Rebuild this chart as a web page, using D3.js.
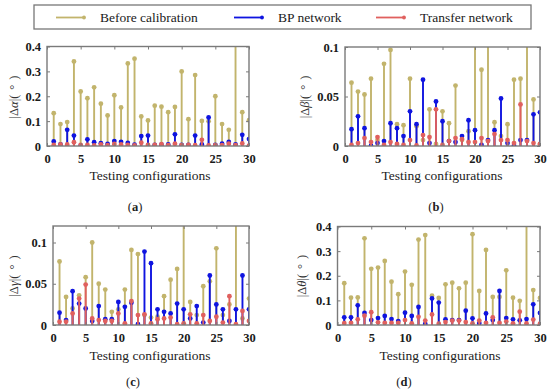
<!DOCTYPE html>
<html><head><meta charset="utf-8">
<script src="https://cdn.jsdelivr.net/npm/d3@7"></script>
<style>body{margin:0;background:#fff} svg{display:block}</style>
</head><body><svg id="c" width="550" height="390"></svg>
<script>
// ---------- DATA ----------
const configs = [1,2,3,4,5,6,7,8,9,10,11,12,13,14,15,16,17,18,19,20,21,22,23,24,25,26,27,28,29,30];
const seriesNames = ["Before calibration", "BP network", "Transfer network"];
const xTicks = [0,5,10,15,20,25,30];

// (a) |Δα|
const alphaBefore   = [0.132,0.088,0.096,0.340,0.219,0.192,0.236,0.170,0.123,0.204,0.155,0.332,0.351,0.119,0.103,0.162,0.158,0.136,0.157,0.300,0.108,0.285,0.101,0.099,0.200,0.088,0.065,0.480,0.136,0.104];
const alphaBP       = [0.018,0.006,0.065,0.042,0.001,0.027,0.015,0.011,0.008,0.020,0.016,0.012,0.005,0.040,0.042,0.004,0.005,0.006,0.047,0.004,0.004,0.042,0.006,0.115,0.004,0.009,0.016,0.006,0.045,0.028];
const alphaTransfer = [0.004,0.006,0.006,0.015,0.004,0.004,0.002,0.006,0.003,0.008,0.006,0.004,0.002,0.013,0.004,0.004,0.007,0.003,0.009,0.003,0.004,0.003,0.025,0.002,0.003,0.003,0.009,0.003,0.010,0.001];
const alphaTicks = [0,0.1,0.2,0.3,0.4];

// (b) |Δβ|
const betaBefore   = [0.064,0.055,0.052,0.068,0.006,0.083,0.097,0.022,0.021,0.068,0.020,0.006,0.037,0.002,0.035,0.023,0.061,0.006,0.015,0.120,0.077,0.120,0.024,0.010,0.022,0.067,0.068,0.120,0.047,0.002];
const betaBP       = [0.017,0.030,0.018,0.000,0.003,0.005,0.023,0.018,0.010,0.035,0.022,0.067,0.003,0.045,0.025,0.005,0.004,0.010,0.026,0.016,0.001,0.006,0.016,0.048,0.003,0.0005,0.006,0.006,0.032,0.034];
const betaTransfer = [0.001,0.003,0.008,0.004,0.009,0.001,0.004,0.002,0.001,0.006,0.0005,0.011,0.009,0.037,0.001,0.005,0.008,0.007,0.004,0.004,0.008,0.005,0.012,0.006,0.006,0.003,0.042,0.005,0.003,0.002];
const betaTicks = [0,0.05,0.1];

// (c) |Δγ|
const gammaBefore   = [0.077,0.034,0.020,0.036,0.058,0.100,0.050,0.043,0.016,0.019,0.043,0.091,0.086,0.012,0.009,0.010,0.035,0.055,0.068,0.140,0.028,0.012,0.047,0.053,0.093,0.012,0.025,0.140,0.008,0.032];
const gammaBP       = [0.015,0.006,0.041,0.026,0.020,0.005,0.023,0.007,0.007,0.028,0.022,0.027,0.001,0.089,0.075,0.019,0.016,0.014,0.026,0.019,0.008,0.023,0.003,0.060,0.025,0.019,0.005,0.019,0.060,0.019];
const gammaTransfer = [0.004,0.004,0.014,0.032,0.049,0.008,0.006,0.005,0.005,0.014,0.002,0.029,0.012,0.013,0.002,0.007,0.008,0.009,0.001,0.002,0.013,0.002,0.012,0.005,0.010,0.003,0.035,0.001,0.017,0.005];
const gammaTicks = [0,0.05,0.1];

// (d) |Δθ|
const thetaBefore   = [0.170,0.111,0.112,0.352,0.228,0.233,0.260,0.176,0.125,0.217,0.163,0.347,0.365,0.119,0.110,0.165,0.172,0.149,0.172,0.369,0.138,0.305,0.114,0.114,0.222,0.111,0.098,0.450,0.142,0.110];
const thetaBP       = [0.031,0.031,0.080,0.049,0.020,0.028,0.037,0.024,0.016,0.050,0.037,0.073,0.004,0.108,0.091,0.023,0.020,0.020,0.058,0.027,0.008,0.047,0.020,0.138,0.028,0.023,0.019,0.024,0.084,0.049];
const thetaTransfer = [0.008,0.009,0.023,0.038,0.052,0.011,0.009,0.009,0.009,0.020,0.007,0.033,0.018,0.043,0.005,0.012,0.018,0.018,0.012,0.007,0.018,0.009,0.031,0.009,0.014,0.007,0.054,0.007,0.022,0.005];
const thetaTicks = [0,0.1,0.2,0.3,0.4];

// ---------- LAYOUT / STYLE ----------
const colors = ["#c2b46c", "#0f14e0", "#e0605e"];
const serif = "'Liberation Serif','Times New Roman',serif";
const panels = [
  {tag:"a", greek:"α", series:[alphaBefore,alphaBP,alphaTransfer], ticks:alphaTicks, max:0.4,
   x0:47, x1:249, yT:46.5, yB:146, ylx:14, yly:97, tx:150, ty:180, gx:135, gy:211},
  {tag:"b", greek:"β", series:[betaBefore,betaBP,betaTransfer], ticks:betaTicks, max:0.1,
   x0:345, x1:540, yT:47, yB:146, ylx:305, yly:97, tx:442, ty:180, gx:436, gy:211},
  {tag:"c", greek:"γ", series:[gammaBefore,gammaBP,gammaTransfer], ticks:gammaTicks, max:0.12,
   x0:53, x1:249, yT:226, yB:325, ylx:14, yly:276, tx:150, ty:360, gx:133, gy:386},
  {tag:"d", greek:"θ", series:[thetaBefore,thetaBP,thetaTransfer], ticks:thetaTicks, max:0.4,
   x0:337.5, x1:540, yT:226.5, yB:325, ylx:302, yly:276, tx:440, ty:360, gx:404, gy:386}
];

const svg = d3.select("#c");
const fmt = v => v === 0 ? "0" : d3.format("~g")(v);

panels.forEach((p, pi) => {
  const x = d3.scaleLinear().domain([0,30]).range([p.x0, p.x1]);
  const y = d3.scaleLinear().domain([0,p.max]).range([p.yB, p.yT]);
  const g = svg.append("g");
  const clipId = "clip" + pi;
  svg.append("defs").append("clipPath").attr("id", clipId)
    .append("rect").attr("x", p.x0).attr("y", p.yT).attr("width", p.x1 - p.x0).attr("height", p.yB - p.yT);

  const plot = g.append("g").attr("clip-path", `url(#${clipId})`);
  p.series.forEach((vals, si) => {
    const sg = plot.append("g");
    sg.selectAll("line").data(configs).join("line")
      .attr("x1", (c) => x(c)).attr("x2", (c) => x(c))
      .attr("y1", y(0)).attr("y2", (c, i) => y(vals[i]))
      .attr("stroke", colors[si]).attr("stroke-width", 1.9);
    sg.selectAll("circle").data(configs).join("circle")
      .attr("cx", (c) => x(c)).attr("cy", (c, i) => y(vals[i]))
      .attr("r", 2.4).attr("fill", colors[si]);
  });

  // frame
  g.append("rect").attr("x", p.x0).attr("y", p.yT).attr("width", p.x1 - p.x0).attr("height", p.yB - p.yT)
    .attr("fill", "none").attr("stroke", "#7a7a7a").attr("stroke-width", 1.4);

  const styleAxis = sel => {
    sel.select(".domain").remove();
    sel.selectAll(".tick line").attr("stroke", "#7a7a7a");
    sel.selectAll("text").attr("font-family", serif).attr("font-weight", "bold")
      .attr("font-size", 12.5).attr("fill", "#1a1a1a");
  };
  g.append("g").attr("transform", `translate(0,${p.yB})`)
    .call(d3.axisBottom(x).tickValues(xTicks).tickSize(-3).tickPadding(8).tickFormat(d3.format("d")))
    .call(styleAxis);
  g.append("g").attr("transform", `translate(0,${p.yT})`)
    .call(d3.axisTop(x).tickValues(xTicks).tickSize(-3).tickFormat(""))
    .call(styleAxis);
  g.append("g").attr("transform", `translate(${p.x0},0)`)
    .call(d3.axisLeft(y).tickValues(p.ticks).tickSize(-3).tickPadding(6).tickFormat(fmt))
    .call(styleAxis);
  g.append("g").attr("transform", `translate(${p.x1},0)`)
    .call(d3.axisRight(y).tickValues(p.ticks).tickSize(-3).tickFormat(""))
    .call(styleAxis);

  // y label
  const yl = g.append("text").attr("transform", `translate(${p.ylx},${p.yly}) rotate(-90)`)
    .attr("text-anchor", "middle").attr("dy", "0.35em")
    .attr("font-family", serif).attr("font-size", 12.5).attr("fill", "#333");
  yl.append("tspan").text("|Δ");
  yl.append("tspan").attr("font-style", "italic").text(p.greek);
  yl.append("tspan").text("|(\u2009\u2009°\u2009\u2009)");

  // x title
  g.append("text").attr("x", p.tx).attr("y", p.ty).attr("text-anchor", "middle")
    .attr("font-family", serif).attr("font-size", 13.5).attr("fill", "#222")
    .text("Testing configurations");

  // panel tag
  const tg = g.append("text").attr("x", p.gx).attr("y", p.gy).attr("text-anchor", "middle")
    .attr("font-family", serif).attr("font-size", 12.5).attr("fill", "#222");
  tg.append("tspan").text("(");
  tg.append("tspan").attr("font-weight", "bold").text(p.tag);
  tg.append("tspan").text(")");
});

// legend
const lg = svg.append("g");
lg.append("rect").attr("x", 34).attr("y", 5).attr("width", 497).attr("height", 24)
  .attr("fill", "#fff").attr("stroke", "#777").attr("stroke-width", 1.3);
const legX = [56, 234, 376];
seriesNames.forEach((name, i) => {
  const e = lg.append("g").attr("transform", `translate(${legX[i]},17.5)`);
  e.append("line").attr("x1", 0).attr("x2", 28).attr("stroke", colors[i]).attr("stroke-width", 1.8);
  e.append("circle").attr("cx", 28).attr("r", 1.9).attr("fill", colors[i]);
  e.append("text").attr("x", 44).attr("dy", "0.35em").attr("font-family", serif)
    .attr("font-size", 13.5).attr("fill", "#1a1a1a").text(name);
});
</script>
</body></html>
